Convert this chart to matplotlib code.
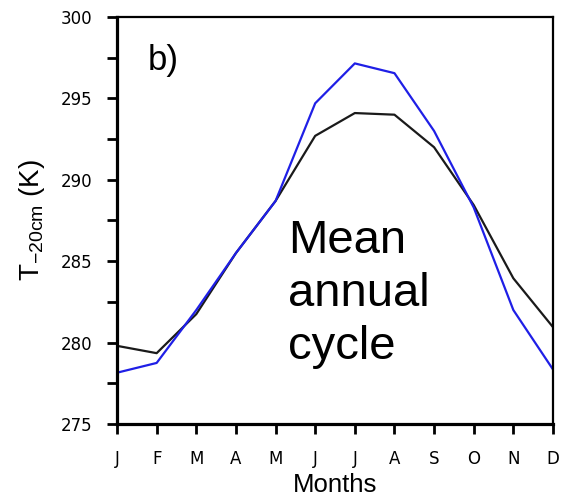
import matplotlib.pyplot as plt
from matplotlib.ticker import MultipleLocator

plt.rcParams['font.family'] = ['Liberation Sans', 'DejaVu Sans']

months = ['J', 'F', 'M', 'A', 'M', 'J', 'J', 'A', 'S', 'O', 'N', 'D']
t_black = [279.8, 279.35, 281.75, 285.5, 288.7, 292.7, 294.1, 294.0, 292.0, 288.45, 283.95, 280.95]
t_blue = [278.15, 278.75, 282.0, 285.5, 288.7, 294.7, 297.15, 296.55, 293.0, 288.3, 282.0, 278.35]

fig = plt.figure(figsize=(5.61, 4.96), dpi=100)
ax = fig.add_axes([0.2086, 0.1452, 0.7771, 0.8205])

x = range(len(months))
ax.plot(x, t_black, color='#1a1a1a', lw=1.6)
ax.plot(x, t_blue, color='#1f1fe6', lw=1.6)

ax.set_xlim(0, 11)
ax.set_ylim(275, 300)
ax.set_xticks(list(x))
ax.set_xticklabels(months)
ax.yaxis.set_major_locator(MultipleLocator(5))
ax.yaxis.set_minor_locator(MultipleLocator(2.5))

ax.tick_params(axis='both', which='both', direction='out', length=7.5, width=2,
               top=False, right=False)
ax.tick_params(axis='y', pad=10)
ax.tick_params(axis='x', pad=11)
# tick labels are wide in the original, DejaVu fits them better
for lab in ax.get_xticklabels() + ax.get_yticklabels():
    lab.set_fontfamily('DejaVu Sans')
    lab.set_fontsize(12)

for side in ['left', 'bottom']:
    ax.spines[side].set_linewidth(2.3)
for side in ['top', 'right']:
    ax.spines[side].set_linewidth(1.6)

ax.set_xlabel('Months', fontsize=18.5, labelpad=4)
ax.set_ylabel(r'T$_{\mathregular{-20cm}}$ (K)', fontsize=20, labelpad=10)

ax.text(0.071, 0.870, 'b)', transform=ax.transAxes, fontsize=25, va='baseline', ha='left')
ax.text(0.392, 0.32, 'Mean\nannual\ncycle', transform=ax.transAxes, fontsize=34,
        va='center', ha='left', linespacing=1.27)

fig.savefig('out.png', dpi=100)
